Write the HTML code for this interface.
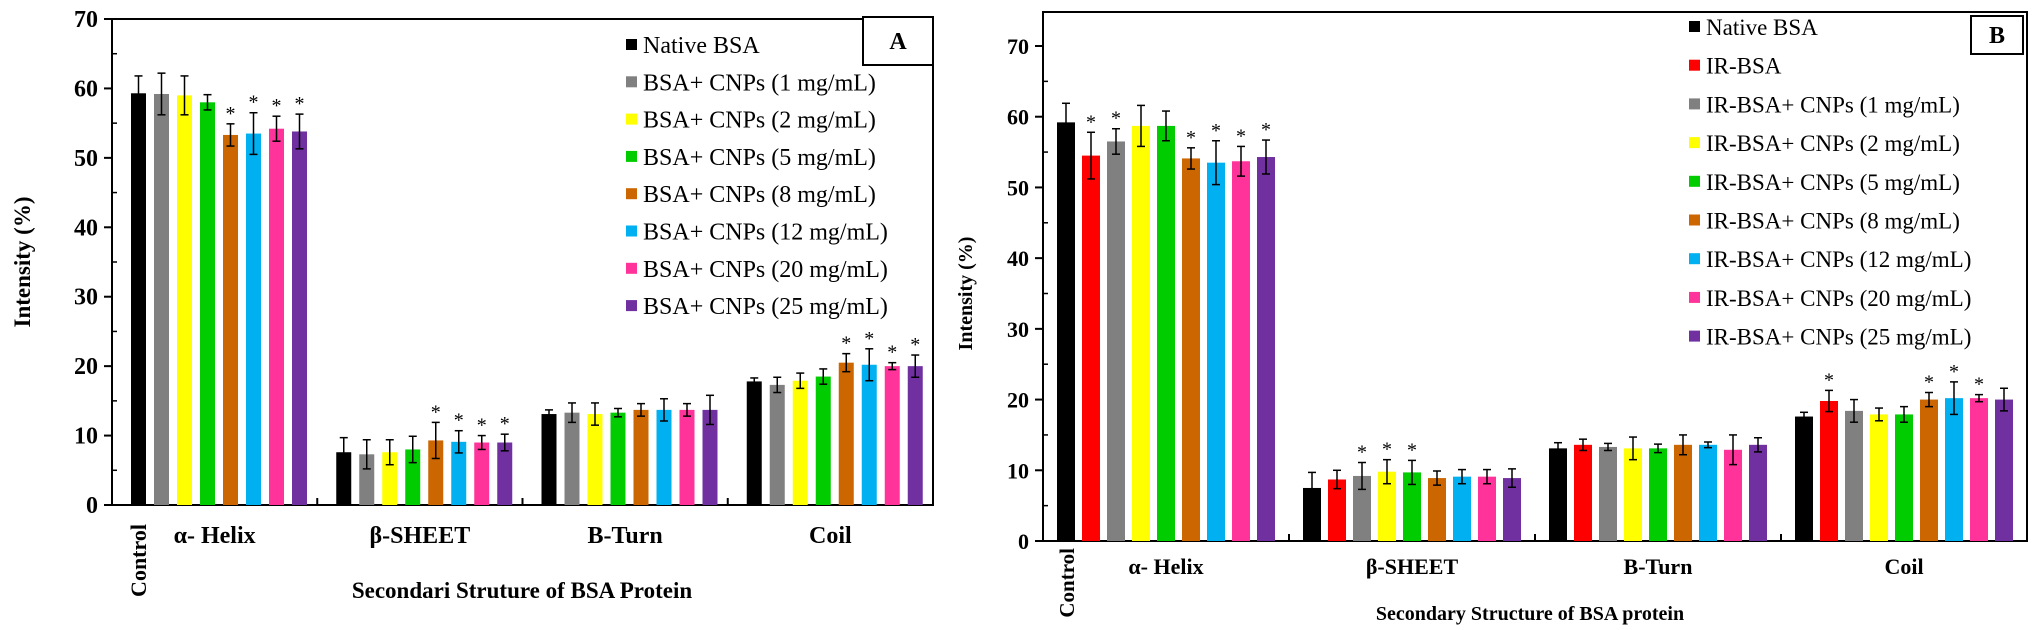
<!DOCTYPE html>
<html><head><meta charset="utf-8">
<style>
html,body{margin:0;padding:0;background:#fff;}
svg{display:block;}
svg text{font-family:"Liberation Serif","DejaVu Serif",serif;}
</style></head>
<body>
<svg id="chart" width="2035" height="630" viewBox="0 0 2035 630" xmlns="http://www.w3.org/2000/svg" font-family="Liberation Serif, DejaVu Serif, serif"></svg>
<script>
// ---- data ----
const groupsA = ["α- Helix","β-SHEET","B-Turn","Coil"];
const seriesA = ["Native BSA","BSA+ CNPs (1 mg/mL)","BSA+ CNPs (2 mg/mL)","BSA+ CNPs (5 mg/mL)","BSA+ CNPs (8 mg/mL)","BSA+ CNPs (12 mg/mL)","BSA+ CNPs (20 mg/mL)","BSA+ CNPs (25 mg/mL)"];
const colorsA = ["#000000","#808080","#ffff00","#00cc00","#cc6600","#00b0f0","#ff3399","#7030a0"];
const valsA_helix = [59.3,59.2,59.0,58.0,53.3,53.5,54.2,53.8];
const errA_helix  = [2.5,3.0,2.8,1.1,1.6,3.0,1.8,2.5];
const starA_helix = [0,0,0,0,1,1,1,1];
const valsA_sheet = [7.6,7.3,7.6,8.0,9.3,9.1,9.0,9.0];
const errA_sheet  = [2.1,2.1,1.8,1.9,2.6,1.6,1.0,1.2];
const starA_sheet = [0,0,0,0,1,1,1,1];
const valsA_turn  = [13.1,13.3,13.1,13.3,13.7,13.7,13.7,13.7];
const errA_turn   = [0.6,1.4,1.6,0.6,0.9,1.6,0.9,2.1];
const starA_turn  = [0,0,0,0,0,0,0,0];
const valsA_coil  = [17.8,17.3,17.9,18.5,20.5,20.2,20.0,20.0];
const errA_coil   = [0.5,1.1,1.1,1.1,1.3,2.3,0.5,1.6];
const starA_coil  = [0,0,0,0,1,1,1,1];

const groupsB = ["α- Helix","β-SHEET","B-Turn","Coil"];
const seriesB = ["Native BSA","IR-BSA","IR-BSA+ CNPs (1 mg/mL)","IR-BSA+ CNPs (2 mg/mL)","IR-BSA+ CNPs (5 mg/mL)","IR-BSA+ CNPs (8 mg/mL)","IR-BSA+ CNPs (12 mg/mL)","IR-BSA+ CNPs (20 mg/mL)","IR-BSA+ CNPs (25 mg/mL)"];
const colorsB = ["#000000","#ff0000","#808080","#ffff00","#00cc00","#cc6600","#00b0f0","#ff3399","#7030a0"];
const valsB_helix = [59.2,54.5,56.5,58.7,58.7,54.1,53.5,53.7,54.3];
const errB_helix  = [2.7,3.3,1.8,2.9,2.1,1.5,3.1,2.1,2.4];
const starB_helix = [0,1,1,0,0,1,1,1,1];
const valsB_sheet = [7.5,8.7,9.2,9.8,9.7,8.9,9.1,9.1,8.9];
const errB_sheet  = [2.2,1.3,1.9,1.7,1.7,1.0,1.0,1.0,1.3];
const starB_sheet = [0,0,1,1,1,0,0,0,0];
const valsB_turn  = [13.1,13.6,13.3,13.1,13.1,13.6,13.6,12.9,13.6];
const errB_turn   = [0.8,0.8,0.5,1.6,0.6,1.4,0.4,2.1,1.0];
const starB_turn  = [0,0,0,0,0,0,0,0,0];
const valsB_coil  = [17.6,19.8,18.4,17.9,17.9,20.0,20.2,20.2,20.0];
const errB_coil   = [0.6,1.5,1.6,0.9,1.1,1.0,2.3,0.5,1.6];
const starB_coil  = [0,1,0,0,0,1,1,1,0];

const yTicks = [0,10,20,30,40,50,60,70];

const NS="http://www.w3.org/2000/svg";
const svg=document.getElementById('chart');
const FF='Liberation Serif, DejaVu Serif, serif';
function mk(tag,attrs,parent){const e=document.createElementNS(NS,tag);for(const k in attrs)e.setAttribute(k,attrs[k]);if(tag==='text')e.setAttribute('font-family',FF);(parent||svg).appendChild(e);return e;}

function drawChart(cfg){
  const g=mk('g',{});
  
  
  const y=v=>cfg.y0-(v/70)*(cfg.y0-cfg.y70);
  const gw=(cfg.right-cfg.left)/4;
  const fr=mk('rect',{x:cfg.left,y:cfg.top,width:cfg.right-cfg.left,height:cfg.y0-cfg.top,fill:'none',stroke:'#000','stroke-width':2},g);
  
  
  yTicks.forEach(t=>{
    mk('line',{x1:cfg.left-8,x2:cfg.left,y1:y(t),y2:y(t),stroke:'#000','stroke-width':2},g);
    if(t<70) mk('line',{x1:cfg.left,x2:cfg.left+5,y1:y(t+5),y2:y(t+5),stroke:'#000','stroke-width':1.5},g);
    const tx=mk('text',{x:cfg.left-14,y:y(t)+8,'text-anchor':'end','font-size':cfg.tickFont,'font-weight':'bold'},g);
    tx.textContent=t;
    
    
  });
  for(let k=1;k<4;k++) mk('line',{x1:cfg.left+k*gw,x2:cfg.left+k*gw,y1:cfg.y0,y2:cfg.y0-7,stroke:'#000','stroke-width':2},g);
  cfg.groups.forEach((gn,gi)=>{
    const vals=cfg.vals[gi],errs=cfg.errs[gi],stars=cfg.stars[gi];
    vals.forEach((v,si)=>{
      const x=cfg.left+gi*gw+cfg.off+si*cfg.pitch;
      const b=mk('rect',{x:x,y:y(v),width:cfg.bw,height:y(0)-y(v),fill:cfg.colors[si]},g);
      
      
      const cx=x+cfg.bw/2, top=y(v+errs[si]), bot=y(v-errs[si]);
      mk('line',{x1:cx,x2:cx,y1:top,y2:bot,stroke:'#000','stroke-width':1.5},g);
      mk('line',{x1:cx-4,x2:cx+4,y1:top,y2:top,stroke:'#000','stroke-width':1.5},g);
      mk('line',{x1:cx-4,x2:cx+4,y1:bot,y2:bot,stroke:'#000','stroke-width':1.5},g);
      if(stars[si]){
        const s=mk('text',{x:cx,y:top-4,'text-anchor':'middle','font-size':20},g);
        s.textContent='*';
        
        
      }
    });
    const lx=cfg.left+gi*gw+gw/2;
    const t=mk('text',{x:lx,y:cfg.xlabY,'text-anchor':'middle','font-size':cfg.xFont,'font-weight':'bold'},g);
    t.textContent=gn;
    
    
  });
  const c=mk('text',{x:0,y:0,'text-anchor':'end','font-size':cfg.ctrlFont,'font-weight':'bold',transform:`translate(${cfg.ctrlX},${cfg.ctrlY}) rotate(-90)`},g);
  c.textContent='Control';
  
  
  const yt=mk('text',{x:0,y:0,'text-anchor':'middle','font-size':cfg.titleFont,'font-weight':'bold',transform:`translate(${cfg.ytX},${(cfg.y0+cfg.y70)/2}) rotate(-90)`},g);
  yt.textContent='Intensity (%)';
  
  
  const xt=mk('text',{x:cfg.xtX,y:cfg.xtY,'text-anchor':'middle','font-size':cfg.titleFont,'font-weight':'bold'},g);
  xt.textContent=cfg.xTitle;
  
  
  cfg.series.forEach((s,si)=>{
    const ly=cfg.legY+si*cfg.legPitch;
    const m=mk('rect',{x:cfg.legX,y:ly-6,width:11,height:11,fill:cfg.colors[si]},g);
    
    
    const t=mk('text',{x:cfg.legX+17,y:ly+8,'font-size':cfg.legFont},g);
    t.textContent=s;
    
    
  });
  const pb=mk('rect',{x:cfg.box[0],y:cfg.box[1],width:cfg.box[2],height:cfg.box[3],fill:'#fff',stroke:'#000','stroke-width':2},g);
  
  
  const pl=mk('text',{x:cfg.box[0]+cfg.box[2]/2,y:cfg.box[1]+cfg.box[3]/2+8,'text-anchor':'middle','font-size':24,'font-weight':'bold'},g);
  pl.textContent=cfg.panel;
  
  
}

drawChart({name:'chart-a',left:112,right:933,top:19,y0:505,y70:19,off:19,pitch:23,bw:15,
  groups:groupsA,series:seriesA,colors:colorsA,
  vals:[valsA_helix,valsA_sheet,valsA_turn,valsA_coil],
  errs:[errA_helix,errA_sheet,errA_turn,errA_coil],
  stars:[starA_helix,starA_sheet,starA_turn,starA_coil],
  tickFont:24,xFont:24,ctrlFont:22,titleFont:23,xlabY:543,ctrlX:146,ctrlY:524,ytX:30,
  xtX:522,xtY:598,xTitle:'Secondari Struture of BSA Protein',
  legX:626,legY:45,legPitch:37.3,legFont:24,box:[863,17,70,48],panel:'A'});

drawChart({name:'chart-b',left:1043,right:2027,top:12,y0:541,y70:46,off:14,pitch:25,bw:18,
  groups:groupsB,series:seriesB,colors:colorsB,
  vals:[valsB_helix,valsB_sheet,valsB_turn,valsB_coil],
  errs:[errB_helix,errB_sheet,errB_turn,errB_coil],
  stars:[starB_helix,starB_sheet,starB_turn,starB_coil],
  tickFont:22,xFont:22,ctrlFont:21,titleFont:20,xlabY:574,ctrlX:1074,ctrlY:548,ytX:972,
  xtX:1530,xtY:620,xTitle:'Secondary Structure  of BSA protein',
  legX:1689,legY:27,legPitch:38.7,legFont:23,box:[1971,16,52,38],panel:'B'});
</script>
</body></html>
